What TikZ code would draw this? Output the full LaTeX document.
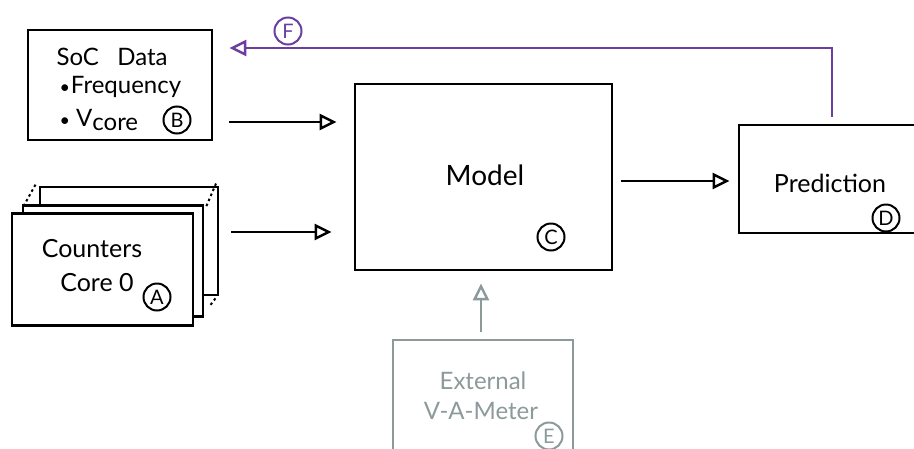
\documentclass[tikz,border=0pt]{standalone}
\usepackage{fontspec}
\setmainfont{Lato}
\usetikzlibrary{arrows.meta,calc}
\definecolor{loopcol}{HTML}{6A3FA0}
\definecolor{meter}{HTML}{8C9A9A}
\tikzset{
  box/.style={draw, line width=2.8pt, fill=white, inner sep=0pt},
  flow/.style={line width=2.5pt, -{Triangle[open, length=17pt, width=16pt, line width=2.5pt]}},
  badge/.style={draw, circle, line width=2pt, inner sep=0pt, minimum size=27pt, font=\fontsize{20}{20}\selectfont},
  label/.style={font=\fontsize{24}{28}\selectfont, align=left},
  bigtxt/.style={font=\fontsize{28}{32}\selectfont},
  linkdots/.style={line width=2pt, dash pattern=on 2.5pt off 3pt}
}
\newcommand{\dotmark}{\scalebox{0.75}{\textbullet}}
\begin{document}
\begin{tikzpicture}[x=1pt, y=-1pt]
\clip (0,0) rectangle (914,448);
\fill[white] (0,0) rectangle (914,448);

% SoC data box
\node[box, minimum width=184pt, minimum height=110pt] (soc) at (120,85) {};
\node[label, anchor=west] (soct) at (53,57) {SoC\ \ \ Data};
\node[label, anchor=west] (socf) at (56,87) {\dotmark\hspace{1pt}Frequency};
\node[label, anchor=west] (socv) at (56,120) {\dotmark\ V\raisebox{-4pt}{core}};
\node[badge] (b) at (177,120) {B};

% stacked counter boxes (one per core)
\node[box, minimum width=178pt, minimum height=108pt] (back) at (129,241) {};
\node[box, minimum width=180pt, minimum height=111pt] (mid) at (113,261) {};
\node[box, minimum width=181pt, minimum height=112pt] (ctr) at (102.5,269.5) {};
\draw[linkdots] ([xshift=2pt,yshift=-2pt]mid.north west) -- ([xshift=-2pt,yshift=3pt]back.north west);
\draw[linkdots] ([xshift=2pt,yshift=-2pt]mid.north east) -- ([xshift=-3pt,yshift=3pt]back.north east);
\draw[linkdots] ([xshift=-4pt,yshift=-2pt]back.south east) -- ([xshift=-10pt,yshift=-10pt]back.south east);
\node[label, anchor=center, font=\fontsize{25}{29}\selectfont] (ctrt) at (92,249) {Counters};
\node[label, anchor=center, font=\fontsize{25}{29}\selectfont] (ctrc) at (97,283) {Core 0};
\node[badge] (a) at (157,297) {A};

% model
\node[box, minimum width=257pt, minimum height=186pt] (model) at (483.5,177) {};
\node[bigtxt] (modelt) at (485,175) {Model};
\node[badge] (c) at (551,237) {C};

% prediction
\node[box, minimum width=191pt, minimum height=108pt] (pred) at (834.5,179) {};
\node[font=\fontsize{25}{29}\selectfont] (predt) at (830,183) {Prediction};
\node[badge] (d) at (886,218) {D};

% external meter
\node[box, draw=meter, minimum width=180pt, minimum height=130pt] (ext) at (483,405) {};
\node[label, text=meter, anchor=center] (extt) at (483,381) {External};
\node[label, text=meter, anchor=center] (extm) at (481,411) {V-A-Meter};
\node[badge, draw=meter, text=meter] (e) at (549,436) {E};

% connectors
\draw[flow] ([xshift=16pt,yshift=-37pt]soc.east) -- ([xshift=-17pt,yshift=55pt]model.west);
\draw[flow] ([xshift=37pt,yshift=37.5pt]ctr.east) -- ([xshift=-22pt,yshift=-55pt]model.west);
\draw[flow] ([xshift=8pt,yshift=-4pt]model.east) -- ([xshift=-8pt,yshift=-2pt]pred.west);
\draw[flow, draw=meter] ([xshift=-2pt,yshift=7pt]ext.north) -- ([xshift=-2.5pt,yshift=-12pt]model.south);

% feedback loop
\draw[flow, draw=loopcol] ([xshift=-2.5pt,yshift=7pt]pred.north) |- ([xshift=16pt,yshift=37pt]soc.east);
\node[badge, draw=loopcol, text=loopcol] (f) at (288,31) {F};
\end{tikzpicture}
\end{document}
